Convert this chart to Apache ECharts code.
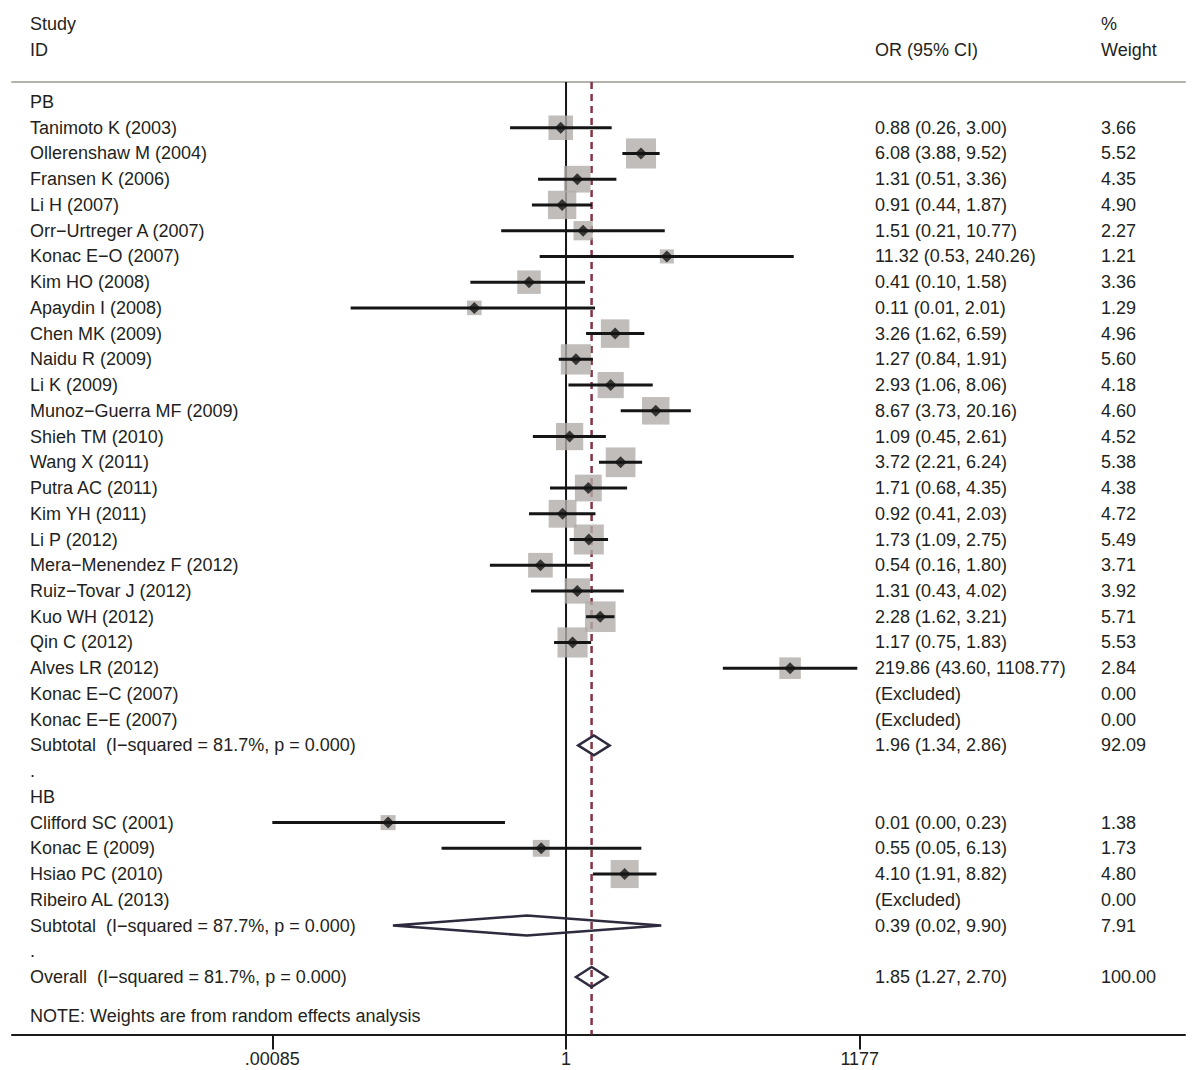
<!DOCTYPE html>
<html><head><meta charset="utf-8">
<script src="https://cdn.jsdelivr.net/npm/echarts@6/dist/echarts.min.js"></script>
<style>html,body{margin:0;padding:0;background:#fff}#c{width:1200px;height:1070px}</style>
</head><body><div id="c"></div>
<script>
// ---------- DATA ----------
const studyNames = [
  'Tanimoto K (2003)','Ollerenshaw M (2004)','Fransen K (2006)','Li H (2007)','Orr\u2212Urtreger A (2007)',
  'Konac E\u2212O (2007)','Kim HO (2008)','Apaydin I (2008)','Chen MK (2009)','Naidu R (2009)','Li K (2009)',
  'Munoz\u2212Guerra MF (2009)','Shieh TM (2010)','Wang X (2011)','Putra AC (2011)','Kim YH (2011)','Li P (2012)',
  'Mera\u2212Menendez F (2012)','Ruiz\u2212Tovar J (2012)','Kuo WH (2012)','Qin C (2012)','Alves LR (2012)',
  'Konac E\u2212C (2007)','Konac E\u2212E (2007)',
  'Clifford SC (2001)','Konac E (2009)','Hsiao PC (2010)','Ribeiro AL (2013)'
];
const studyRow = [1,2,3,4,5,6,7,8,9,10,11,12,13,14,15,16,17,18,19,20,21,22,23,24, 28,29,30,31];
const studyOR = [0.88,6.08,1.31,0.91,1.51,11.32,0.41,0.11,3.26,1.27,2.93,8.67,1.09,3.72,1.71,0.92,1.73,0.54,1.31,2.28,1.17,219.86,null,null, 0.0138,0.55,4.10,null];
const studyLo = [0.26,3.88,0.51,0.44,0.21,0.53,0.10,0.0056,1.62,0.84,1.06,3.73,0.45,2.21,0.68,0.41,1.09,0.16,0.43,1.62,0.75,43.60,null,null, 0.0004,0.05,1.91,null];
const studyHi = [3.00,9.52,3.36,1.87,10.77,240.26,1.58,2.01,6.59,1.91,8.06,20.16,2.61,6.24,4.35,2.03,2.75,1.80,4.02,3.21,1.83,1108.77,null,null, 0.23,6.13,8.82,null];
const studyWeight = [3.66,5.52,4.35,4.90,2.27,1.21,3.36,1.29,4.96,5.60,4.18,4.60,4.52,5.38,4.38,4.72,5.49,3.71,3.92,5.71,5.53,2.84,0.00,0.00, 1.38,1.73,4.80,0.00];

const poolNames = ['Subtotal  (I\u2212squared = 81.7%, p = 0.000)','Subtotal  (I\u2212squared = 87.7%, p = 0.000)','Overall  (I\u2212squared = 81.7%, p = 0.000)'];
const poolRow = [25, 32, 34];
const poolOR = [1.96, 0.39, 1.85];
const poolLo = [1.34, 0.0155, 1.27];
const poolHi = [2.86, 9.90, 2.70];
const poolWeight = [92.09, 7.91, 100.00];

const otherLabels = ['PB', '.', 'HB', '.', 'NOTE: Weights are from random effects analysis'];
const otherRow = [0, 26, 27, 33, 35.5];

const tickValues = [0.00085, 1, 1177];
const tickLabels = ['.00085', '1', '1177'];
const nullValue = 1;
const overallValue = 1.85;

// ---------- LAYOUT / STYLE ----------
const FONT_FAMILY = '"Liberation Sans", Arial, sans-serif';
const FS = 18;
const FONT = FS + 'px ' + FONT_FAMILY;
const TXT = '#231f20';
const X_MIN = 1.614e-6, X_MAX = 2.958e6;
const CLIP_LO = tickValues[0], CLIP_HI = tickValues[tickValues.length - 1];
const Y_MIN = -0.777, Y_MAX = 36.234;
const COL_LABEL = 30, COL_EST = 875, COL_WT = 1101;

// text rows
const textRows = [];
otherLabels.forEach((t, i) => textRows.push({row: otherRow[i], label: t, est: '', wt: ''}));
studyNames.forEach((n, i) => {
  const est = studyOR[i] == null ? '(Excluded)' :
    studyOR[i].toFixed(2) + ' (' + studyLo[i].toFixed(2) + ', ' + studyHi[i].toFixed(2) + ')';
  textRows.push({row: studyRow[i], label: n, est: est, wt: studyWeight[i].toFixed(2)});
});
poolNames.forEach((n, i) => {
  textRows.push({row: poolRow[i], label: n,
    est: poolOR[i].toFixed(2) + ' (' + poolLo[i].toFixed(2) + ', ' + poolHi[i].toFixed(2) + ')',
    wt: poolWeight[i].toFixed(2)});
});

const studyIdx = studyNames.map((_, i) => i).filter(i => studyOR[i] != null);

function txt(x, y, s) {
  return {type: 'text', x: x, y: y, style: {text: s, fill: TXT, font: FONT, textAlign: 'left', textVerticalAlign: 'middle', verticalAlign: 'middle'}};
}

const chart = echarts.init(document.getElementById('c'), null, {renderer: 'svg'});
chart.setOption({
  animation: false,
  backgroundColor: '#fff',
  grid: {left: 12, right: 15, top: 82, bottom: 35.5},
  xAxis: [{
    type: 'log', logBase: 10, min: X_MIN, max: X_MAX, position: 'bottom',
    axisLine: {show: true, onZero: false, lineStyle: {color: '#1a1a1a', width: 2}},
    axisTick: {show: true, customValues: tickValues, length: 15, lineStyle: {color: '#1a1a1a', width: 2}},
    axisLabel: {show: true, customValues: tickValues, margin: 15, color: TXT, fontSize: FS, fontFamily: FONT_FAMILY,
      formatter: v => {
        let best = 0, bd = Infinity;
        tickValues.forEach((t, i) => { const d = Math.abs(Math.log10(v) - Math.log10(t)); if (d < bd) { bd = d; best = i; } });
        return tickLabels[best];
      }},
    splitLine: {show: false}, minorTick: {show: false}
  }, {
    type: 'log', logBase: 10, min: X_MIN, max: X_MAX, position: 'top',
    axisLine: {show: true, onZero: false, lineStyle: {color: '#b5b1ad', width: 2}},
    axisTick: {show: false}, axisLabel: {show: false}, splitLine: {show: false}
  }],
  yAxis: {type: 'value', inverse: true, min: Y_MIN, max: Y_MAX, show: false},
  graphic: [
    txt(COL_LABEL, 24, 'Study'), txt(COL_LABEL, 50, 'ID'),
    txt(COL_EST, 50, 'OR (95% CI)'),
    txt(COL_WT, 24, '%'), txt(COL_WT, 50, 'Weight')
  ],
  series: [
    {type: 'line', silent: true, z: 1, symbol: 'none', data: [[nullValue, Y_MIN], [nullValue, Y_MAX]],
      lineStyle: {color: '#151515', width: 2}},
    {type: 'line', silent: true, z: 1, symbol: 'none', data: [[overallValue, Y_MIN], [overallValue, Y_MAX]],
      lineStyle: {color: '#843442', width: 2.5, type: [7, 5]}},
    {type: 'scatter', silent: true, z: 2, symbol: 'rect',
      data: studyIdx.map(i => [studyOR[i], studyRow[i], studyWeight[i]]),
      symbolSize: v => 12.8 * Math.sqrt(v[2]),
      itemStyle: {color: '#b1aca9'}},
    {type: 'custom', silent: true, z: 3,
      data: studyIdx.map(i => [studyLo[i], studyHi[i], studyRow[i]]),
      encode: {x: [0, 1], y: 2},
      renderItem: (p, api) => {
        const lo = Math.max(api.value(0), CLIP_LO), hi = Math.min(api.value(1), CLIP_HI), r = api.value(2);
        const a = api.coord([lo, r]), b = api.coord([hi, r]);
        return {type: 'line', shape: {x1: a[0], y1: a[1], x2: b[0], y2: b[1]}, style: {stroke: '#151515', lineWidth: 3}};
      }},
    {type: 'scatter', silent: true, z: 4, symbol: 'diamond', symbolSize: 12,
      data: studyIdx.map(i => [studyOR[i], studyRow[i]]),
      itemStyle: {color: '#141414'}},
    {type: 'custom', silent: true, z: 4,
      data: poolOR.map((o, i) => [poolLo[i], o, poolHi[i], poolRow[i]]),
      encode: {x: [0, 1, 2], y: 3},
      renderItem: (p, api) => {
        const r = api.value(3);
        const a = api.coord([api.value(0), r]), m = api.coord([api.value(1), r]), b = api.coord([api.value(2), r]);
        const h = 10;
        return {type: 'polygon', shape: {points: [[a[0], a[1]], [m[0], m[1] - h], [b[0], b[1]], [m[0], m[1] + h]]},
          style: {stroke: '#2f2a3e', lineWidth: 2.5, fill: 'none', lineJoin: 'miter'}};
      }},
    {type: 'custom', silent: true, z: 5,
      data: textRows.map(t => [1, t.row]),
      encode: {x: 0, y: 1},
      renderItem: (p, api) => {
        const t = textRows[p.dataIndex];
        const y = api.coord([1, t.row])[1];
        const ch = [txt(COL_LABEL, y, t.label)];
        if (t.est) ch.push(txt(COL_EST, y, t.est));
        if (t.wt) ch.push(txt(COL_WT, y, t.wt));
        return {type: 'group', children: ch};
      }}
  ]
});
</script>
</body></html>
